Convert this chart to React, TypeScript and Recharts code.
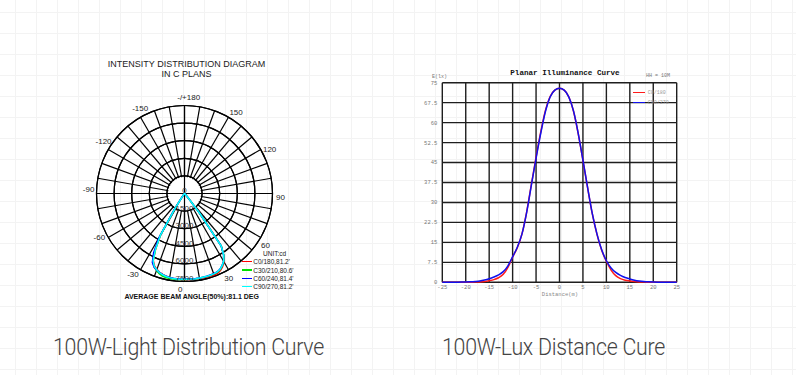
import React from 'react';
import {
  RadarChart, Radar, PolarGrid, PolarAngleAxis, PolarRadiusAxis,
  LineChart, Line, XAxis, YAxis, CartesianGrid,
} from 'recharts';

// ---- polar diagram data (cd), half planes read at 2.5 deg steps, 0 = straight down
const HALF_ANGLES = [0, 2.5, 5, 7.5, 10, 12.5, 15, 17.5, 20, 22.5, 25, 27.5, 30, 32.5, 35, 37.5, 40, 42.5, 45];
const C0_RIGHT = [7330, 7335, 7340, 7345, 7350, 7360, 7375, 7390, 7360, 7250, 7030, 6720, 6240, 5470, 2100, 500, 80, 0, 0];
const C0_LEFT = [7330, 7330, 7325, 7315, 7300, 7270, 7220, 7140, 7040, 6880, 6680, 6300, 5320, 4050, 1450, 280, 40, 0, 0];
const C30_RIGHT = [7320, 7320, 7325, 7325, 7320, 7315, 7310, 7300, 7270, 7170, 6960, 6680, 6220, 5450, 2050, 480, 70, 0, 0];
const C30_LEFT = [7320, 7330, 7340, 7350, 7360, 7360, 7340, 7280, 7170, 6980, 6760, 6370, 5380, 4120, 1480, 290, 40, 0, 0];
const C60_RIGHT = [7300, 7305, 7310, 7310, 7305, 7300, 7290, 7280, 7240, 7130, 6930, 6660, 6200, 5440, 2080, 490, 70, 0, 0];
const C60_LEFT = [7300, 7305, 7305, 7300, 7290, 7270, 7230, 7160, 7070, 6940, 6780, 6480, 5700, 4400, 1650, 330, 50, 0, 0];
const C90_RIGHT = [7310, 7315, 7320, 7320, 7315, 7310, 7300, 7290, 7250, 7140, 6940, 6670, 6220, 5460, 2100, 500, 80, 0, 0];
const C90_LEFT = [7310, 7315, 7315, 7310, 7300, 7280, 7240, 7170, 7070, 6920, 6720, 6330, 5350, 4100, 1500, 300, 40, 0, 0];

const PLANE_NAMES = ["C0/180,81.2'", "C30/210,80.6'", "C60/240,81.4'", "C90/270,81.2'"];
const PLANE_KEYS = ['c0', 'c30', 'c60', 'c90'];
const PLANE_COLORS = ['#ff0000', '#00e000', '#0000ff', '#00ffff'];
const PLANE_RIGHT = [C0_RIGHT, C30_RIGHT, C60_RIGHT, C90_RIGHT];
const PLANE_LEFT = [C0_LEFT, C30_LEFT, C60_LEFT, C90_LEFT];

const ANGLE_LABELS = ['0', '30', '60', '90', '120', '150', '-/+180', '-150', '-120', '-90', '-60', '-30'];

// ---- lux curve data
const DISTANCE = [-25, -24, -23, -22, -21, -20, -19, -18, -17, -16, -15, -14, -13, -12, -11, -10, -9, -8, -7, -6, -5, -4, -3, -2, -1, 0,
  1, 2, 3, 4, 5, 6, 7, 8, 9, 10, 11, 12, 13, 14, 15, 16, 17, 18, 19, 20, 21, 22, 23, 24, 25];
const LUX_C0 = [0, 0, 0, 0, 0.01, 0.02, 0.04, 0.08, 0.15, 0.3, 0.6, 1.0, 1.7, 3.0, 5.6, 9.5, 13.0, 18.2, 26.5, 36.8, 47.0, 56.5, 64.6, 69.8, 72.2, 72.9,
  72.2, 69.6, 64.2, 55.8, 45.8, 35.5, 25.7, 18.0, 12.0, 7.9, 4.6, 2.5, 1.4, 0.8, 0.5, 0.28, 0.14, 0.07, 0.03, 0.01, 0, 0, 0, 0, 0];
const LUX_C90 = [0.01, 0.01, 0.02, 0.04, 0.07, 0.12, 0.2, 0.32, 0.5, 0.85, 1.35, 2.0, 2.8, 4.0, 6.2, 9.6, 13.2, 18.2, 26.3, 36.5, 46.6, 56.0, 64.2, 69.6, 72.2, 72.9,
  72.2, 69.6, 64.3, 55.9, 45.9, 35.6, 25.8, 18.1, 12.2, 8.1, 5.4, 3.7, 2.6, 1.8, 1.25, 0.8, 0.5, 0.3, 0.18, 0.1, 0.06, 0.04, 0.02, 0.01, 0.01];
const LUX_NAMES = ['C0/180', 'C90/270'];
const LUX_COLORS = ['#ff1a1a', '#1010ee'];
const X_TICKS = [-25, -20, -15, -10, -5, 0, 5, 10, 15, 20, 25];
const Y_TICKS = [0, 7.5, 15, 22.5, 30, 37.5, 45, 52.5, 60, 67.5, 75];

// build polar table: 0..357.5, right half = 0..45, left half = 315..357.5
const polarData = Array.from({ length: 144 }, (_, i) => {
  const angle = i * 2.5;
  const row: any = { angle };
  PLANE_KEYS.forEach((k, s) => {
    let v = 0;
    if (angle <= 45) v = PLANE_RIGHT[s][HALF_ANGLES.indexOf(angle)];
    else if (angle >= 315) v = PLANE_LEFT[s][HALF_ANGLES.indexOf(360 - angle)];
    row[k] = v;
  });
  return row;
});

const luxData = DISTANCE.map((d, i) => ({ d, c0: LUX_C0[i], c90: LUX_C90[i] }));

const ARIAL = '"Liberation Sans", Arial, sans-serif';
const MONO = '"Liberation Mono", "DejaVu Sans Mono", monospace';
const CAPTION = 'Roboto, "Open Sans", sans-serif';

const CX = 184.5;
const CY = 193.5;
const R = 88;
const SPOKES = Array.from({ length: 36 }, (_, i) => i * 10);
const RINGS = Array.from({ length: 5 }, (_, i) => (R * (i + 1)) / 5);
const HOLE = R / 5 - 1;

const AngleTick = (props: any) => {
  const { x, y, payload } = props;
  const v = Number(payload.value);
  if (v % 30 !== 0) return <g />;
  return (
    <text x={x} y={y} textAnchor="middle" dominantBaseline="central" fontSize={8} fontFamily={ARIAL} fill="#222">
      {ANGLE_LABELS[v / 30]}
    </text>
  );
};

const RadiusTick = (props: any) => {
  const { x, y, payload } = props;
  return (
    <text x={x} y={y - 0.5} textAnchor="middle" fontSize={8} fontFamily={ARIAL} fill="#333">
      {payload.value}
    </text>
  );
};

const abs = (s: React.CSSProperties): React.CSSProperties => ({ position: 'absolute', whiteSpace: 'nowrap', ...s });

const captionStyle = (left: number): React.CSSProperties => abs({
  left, top: 333, fontFamily: CAPTION, fontWeight: 300, fontSize: 24, letterSpacing: -0.3, lineHeight: '28px',
  color: '#444', transform: 'scaleX(0.89)', transformOrigin: 'left center',
});

export default function App() {
  return (
    <div style={{
      position: 'absolute', left: 0, top: 0, width: 796, height: 375, background: '#fff', overflow: 'hidden',
      backgroundImage: 'linear-gradient(to right, #f3f3f3 1px, transparent 1px), linear-gradient(to bottom, #f3f3f3 1px, transparent 1px)',
      backgroundSize: '21px 21px', backgroundPosition: '15px 12px',
    }}>
      {/* left: polar diagram */}
      <div style={abs({ left: 0, top: 59, width: 373, textAlign: 'center', fontFamily: ARIAL, fontSize: 9, lineHeight: '10px', color: '#222' })}>
        INTENSITY DISTRIBUTION DIAGRAM<br />IN C PLANS
      </div>
      {/* bottom layer: rings + 10 deg spokes + angle labels */}
      <div style={abs({ left: 0, top: 0 })}>
        <RadarChart width={370} height={310} data={polarData} cx={CX} cy={CY} outerRadius={R}
          startAngle={-90} endAngle={270} margin={{ top: 0, right: 0, bottom: 0, left: 0 }}>
          <PolarGrid gridType="circle" polarAngles={SPOKES} polarRadius={RINGS} stroke="#000" strokeOpacity={1} strokeWidth={1.2} />
          <PolarAngleAxis dataKey="angle" tick={AngleTick} tickLine={false} axisLine={false} tickSize={8} />
          <PolarRadiusAxis domain={[0, 7500]} tickCount={6} tick={false} axisLine={false} tickLine={false} />
          <Radar dataKey="c90" stroke="none" fill="none" fillOpacity={0} dot={false} isAnimationActive={false} />
        </RadarChart>
      </div>
      {/* spokes stop at the inner ring */}
      <div style={abs({ left: CX - HOLE, top: CY - HOLE, width: HOLE * 2, height: HOLE * 2, borderRadius: '50%', background: '#fff' })} />
      {/* top layer: main axes, radius labels, curves */}
      <div style={abs({ left: 0, top: 0 })}>
        <RadarChart width={370} height={310} data={polarData} cx={CX} cy={CY} outerRadius={R}
          startAngle={-90} endAngle={270} margin={{ top: 0, right: 0, bottom: 0, left: 0 }}>
          <PolarGrid gridType="circle" polarAngles={[0, 90, 180, 270]} polarRadius={RINGS} stroke="#000" strokeOpacity={1} strokeWidth={1.2} />
          <PolarAngleAxis dataKey="angle" tick={false} tickLine={false} axisLine={false} />
          <PolarRadiusAxis angle={-90} domain={[0, 7500]} tickCount={6} tick={RadiusTick} axisLine={false} tickLine={false} />
          {PLANE_KEYS.map((k, s) => (
            <Radar key={k} dataKey={k} name={PLANE_NAMES[s]} stroke={PLANE_COLORS[s]} strokeWidth={1.5}
              fill="none" fillOpacity={0} dot={false} isAnimationActive={false} />
          ))}
        </RadarChart>
      </div>
      <div style={abs({ left: 263, top: 250, fontFamily: ARIAL, fontSize: 6.5, lineHeight: '8px', color: '#222' })}>UNIT:cd</div>
      {PLANE_NAMES.map((n, s) => (
        <div key={n} style={abs({ left: 241.7, top: 257.7 + s * 8.3, height: 8, display: 'flex', alignItems: 'center', fontFamily: ARIAL, fontSize: 6.5, color: '#222' })}>
          <span style={{ display: 'inline-block', width: 10, height: 1.5, background: PLANE_COLORS[s], marginRight: 1.6 }} />
          {n}
        </div>
      ))}
      <div style={abs({ left: 0, top: 292, width: 383.4, textAlign: 'center', fontFamily: ARIAL, fontSize: 7, fontWeight: 'bold', lineHeight: '9px', color: '#111' })}>
        AVERAGE BEAM ANGLE(50%):81.1 DEG
      </div>

      {/* right: planar illuminance */}
      <div style={abs({ left: 465, top: 68, width: 200, textAlign: 'center', fontFamily: MONO, fontSize: 7.6, fontWeight: 'bold', lineHeight: '10px', color: '#111' })}>
        Planar Illuminance Curve
      </div>
      <div style={abs({ left: 432, top: 74, fontFamily: MONO, fontSize: 5, lineHeight: '6px', color: '#777' })}>E(lx)</div>
      <div style={abs({ left: 640, top: 73, width: 36, textAlign: 'center', fontFamily: MONO, fontSize: 5, lineHeight: '6px', color: '#777' })}>HH = 10M</div>
      <div style={abs({ left: 400, top: 60 })}>
        <LineChart width={300} height={250} data={luxData} margin={{ top: 22.7, right: 23.3, bottom: 13.7, left: 0 }}>
          <CartesianGrid stroke="#1e1e1e" strokeWidth={1.4} />
          <XAxis dataKey="d" type="number" domain={[-25, 25]} ticks={X_TICKS} height={14} tickLine={false} axisLine={false}
            tickSize={2} tickMargin={1} interval={0} tick={{ fontSize: 5.5, fontFamily: MONO, fill: '#777' }} />
          <YAxis type="number" domain={[0, 75]} ticks={Y_TICKS} width={42.3} tickLine={false} axisLine={false}
            tickSize={3} tickMargin={2} interval={0} tick={{ fontSize: 5.5, fontFamily: MONO, fill: '#777' }} />
          <Line dataKey="c0" name={LUX_NAMES[0]} type="monotone" stroke={LUX_COLORS[0]} strokeWidth={1.5} dot={false} isAnimationActive={false} />
          <Line dataKey="c90" name={LUX_NAMES[1]} type="monotone" stroke={LUX_COLORS[1]} strokeWidth={1.5} dot={false} isAnimationActive={false} />
        </LineChart>
      </div>
      {LUX_NAMES.map((n, s) => (
        <div key={n} style={abs({ left: 632.7, top: 89.7 + s * 10, height: 6, display: 'flex', alignItems: 'center', fontFamily: MONO, fontSize: 5, color: '#999' })}>
          <span style={{ display: 'inline-block', width: 12.3, height: 1.6, background: LUX_COLORS[s], marginRight: 2.7 }} />
          {n}
        </div>
      ))}
      <div style={abs({ left: 520, top: 292, width: 80, textAlign: 'center', fontFamily: MONO, fontSize: 5.5, lineHeight: '6px', color: '#888' })}>Distance(m)</div>

      {/* captions */}
      <div style={captionStyle(53)}>100W-Light Distribution Curve</div>
      <div style={captionStyle(442)}>100W-Lux Distance Cure</div>
    </div>
  );
}
